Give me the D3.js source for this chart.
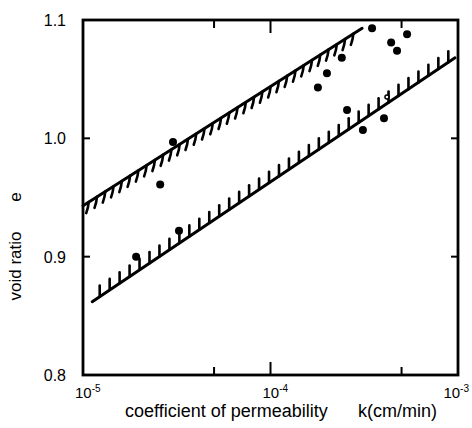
<!DOCTYPE html>
<html><head><meta charset="utf-8">
<script src="https://cdn.jsdelivr.net/npm/d3@7"></script>
<style>body{margin:0;background:#fff}svg{display:block}</style></head>
<body>
<svg id="c" width="472" height="428"></svg>
<script>
// ---- data ----
const pointK = [1.92e-5, 3.25e-5, 2.58e-5, 3.02e-5, 1.79e-4, 2.0e-4, 2.40e-4, 3.48e-4, 5.35e-4, 4.40e-4, 4.73e-4, 2.56e-4, 4.03e-4, 3.11e-4];
const pointE = [0.900, 0.922, 0.961, 0.997, 1.043, 1.055, 1.068, 1.093, 1.088, 1.081, 1.074, 1.024, 1.017, 1.007];
const openK = [4.18e-4];
const openE = [1.035];
const upperLineK = [1e-5, 3.08e-4];
const upperLineE = [0.943, 1.093];
const lowerLineK = [1.12e-5, 9.64e-4];
const lowerLineE = [0.862, 1.068];
const xMajorTicks = [1e-5, 1e-4, 1e-3];
const xMajorExp = ["-5", "-4", "-3"];
const xMinorTicks = [5e-5, 5e-4];
const yTicks = [0.8, 0.9, 1.0, 1.1];
const yTickLabels = ["0.8", "0.9", "1.0", "1.1"];
const xTitle1 = "coefficient of permeability";
const xTitle2 = "k(cm/min)";
const yTitle1 = "void ratio";
const yTitle2 = "e";

// ---- chart ----
const svg = d3.select("#c");
const font = "'Liberation Sans', Arial, sans-serif";
const x = d3.scaleLog().domain([1e-5, 1e-3]).range([83, 458]);
const y = d3.scaleLinear().domain([0.8, 1.1]).range([375, 20]);

// frame
svg.append("rect").attr("x", x(1e-5)).attr("y", y(1.1))
  .attr("width", x(1e-3) - x(1e-5)).attr("height", y(0.8) - y(1.1))
  .attr("fill", "none").attr("stroke", "#000").attr("stroke-width", 2.8);

// x ticks (inward, bottom and top)
const xt = svg.append("g").attr("stroke", "#000").attr("stroke-width", 2);
xMinorTicks.concat([1e-4]).forEach(v => {
  const len = v === 1e-4 ? 13 : 8;
  xt.append("line").attr("x1", x(v)).attr("x2", x(v)).attr("y1", y(0.8)).attr("y2", y(0.8) - len);
  xt.append("line").attr("x1", x(v)).attr("x2", x(v)).attr("y1", y(1.1)).attr("y2", y(1.1) + len);
});
// y ticks (inward, left and right)
[0.9, 1.0].forEach(v => {
  xt.append("line").attr("x1", x(1e-5)).attr("x2", x(1e-5) + 7).attr("y1", y(v)).attr("y2", y(v));
  xt.append("line").attr("x1", x(1e-3)).attr("x2", x(1e-3) - 7).attr("y1", y(v)).attr("y2", y(v));
});

// tick labels
yTicks.forEach((v, i) => {
  svg.append("text").attr("x", 66).attr("y", y(v) + 6).attr("text-anchor", "end")
    .attr("font-family", font).attr("font-size", 16).text(yTickLabels[i]);
});
xMajorTicks.forEach((v, i) => {
  const t = svg.append("text").attr("x", x(v) - 8).attr("y", 398)
    .attr("font-family", font).attr("font-size", 15);
  t.append("tspan").text("10");
  t.append("tspan").attr("font-size", 10).attr("dy", -6).text(xMajorExp[i]);
  const w = t.node().getComputedTextLength();
  if (x(v) - 8 + w > 469) t.attr("x", 469 - w);
});

// axis titles
svg.append("text").attr("x", 125).attr("y", 417).attr("font-family", font).attr("font-size", 18).text(xTitle1);
svg.append("text").attr("x", 358).attr("y", 417).attr("font-family", font).attr("font-size", 18).text(xTitle2);
svg.append("text").attr("transform", "translate(21,266) rotate(-90)").attr("text-anchor", "middle")
  .attr("font-family", font).attr("font-size", 17).text(yTitle1);
svg.append("text").attr("transform", "translate(21,197) rotate(-90)").attr("text-anchor", "middle")
  .attr("font-family", font).attr("font-size", 17).text(yTitle2);

// hatched boundary lines
function hatched(ks, es, spacing, hx, hy) {
  const x0 = x(ks[0]), y0 = y(es[0]), x1 = x(ks[1]), y1 = y(es[1]);
  const g = svg.append("g").attr("stroke", "#000").attr("fill", "none").attr("stroke-linecap", "round");
  g.append("line").attr("x1", x0).attr("y1", y0).attr("x2", x1).attr("y2", y1).attr("stroke-width", 3);
  const L = Math.hypot(x1 - x0, y1 - y0);
  const n = Math.floor(L / spacing);
  for (let i = 1; i <= n; i++) {
    const t = (i * spacing - 3) / L;
    const px = x0 + (x1 - x0) * t, py = y0 + (y1 - y0) * t;
    g.append("path").attr("stroke-width", 2.6)
      .attr("d", `M${px},${py} Q${px + hx * 0.2},${py + hy * 0.5} ${px + hx},${py + hy}`);
  }
}
hatched(upperLineK, upperLineE, 9.8, -2.5, 11);
hatched(lowerLineK, lowerLineE, 12, 0, -11);

// points
svg.append("g").selectAll("circle").data(pointK).join("circle")
  .attr("cx", d => x(d)).attr("cy", (d, i) => y(pointE[i])).attr("r", 4).attr("fill", "#000");
svg.append("g").selectAll("circle").data(openK).join("circle")
  .attr("cx", d => x(d)).attr("cy", (d, i) => y(openE[i])).attr("r", 2)
  .attr("fill", "#fff").attr("stroke", "#000").attr("stroke-width", 1.5);
</script>
</body></html>
